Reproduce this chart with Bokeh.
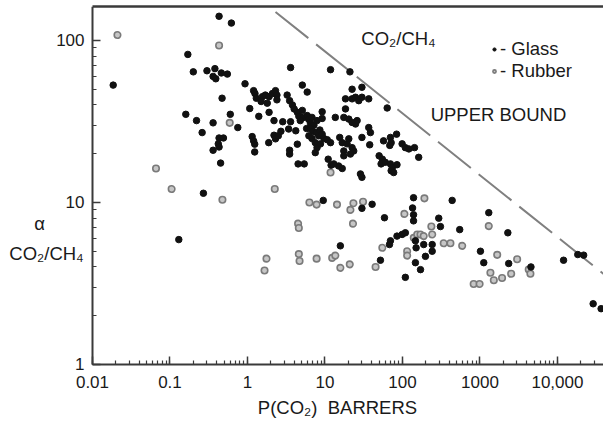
from bokeh.plotting import figure
from bokeh.models import (Range1d, LogAxis, FixedTicker, LogTicker, Label, Legend,
                          LegendItem, CustomJSTickFormatter)
from bokeh.embed import file_html
from bokeh.resources import INLINE

# ---- data ----
glass_p = [0.0185, 0.43, 0.62, 0.17, 0.20, 0.30, 0.38, 0.36, 0.39, 0.46, 0.55, 0.47,
           0.16, 0.22, 0.36, 0.60, 0.75, 0.26, 0.43, 0.49, 0.42, 0.43, 0.36, 0.45, 0.27, 0.13,
           0.93, 1.2, 1.25, 1.3, 1.56, 1.7, 1.9, 2.1, 2.3, 2.4, 2.4, 1.5, 1.8, 1.07, 1.4, 1.9,
           2.2, 2.85, 3.6, 1.15, 1.2, 1.24, 1.24, 1.88, 2.2, 2.3, 2.5, 2.7, 3.4, 3.5, 3.5, 4.4,
           4.5, 5.4, 3.6, 11.8, 5.1, 5.9, 3.25, 3.5, 3.8, 4.0, 4.4, 4.6, 5.1, 5.3, 4.8, 5.9,
           6.2, 6.8, 6.5, 7.2, 7.9, 5.8, 6.5, 7.0, 7.8, 8.6, 8.3, 9.2, 9.7, 10.7, 11.8, 6.2,
           6.8, 7.5, 7.9, 8.75, 9.2, 9.2, 4.2, 7.5, 11.0, 12.0, 15.0, 16.7, 15.5, 16.7, 17.5,
           19.3, 20.3, 22.4, 23.5, 21.3, 17.5, 13.6, 18.4, 17.5, 20.3, 22.4, 24.8, 26.0, 18.4,
           22.4, 24.8, 27.3, 30.0, 22.4, 30.0, 36.7, 30.0, 36.7, 28.7, 30.0, 21.0, 38.6, 37.8,
           57.0, 70.0, 71.5, 68.6, 84.0, 99.0, 109.0, 121.0, 143.0, 162.0, 50.0, 55.0, 53.0,
           60.0, 70.0, 74.0, 71.5, 77.0, 85.0, 13.0, 63.5,
           139.0, 135.0, 139.0, 139.0, 294.0, 309.0, 438.0, 548.0, 58.6, 30.0, 40.6, 9.5,
           70.0, 68.0, 85.0, 99.0, 109.0, 147.0, 150.0, 188.0, 242.0, 242.0, 198.0, 147.0,
           171.0, 109.0, 52.0, 15.8, 1300.0, 2290.0, 1015.0, 1120.0, 2350.0, 4550.0, 12000.0,
           18300.0, 21800.0, 28900.0, 36600.0]
glass_alpha = [53, 141, 128, 82, 64, 65, 67, 60, 58, 63, 62, 44,
               35, 32, 31, 35, 29, 27, 25, 25, 23, 22, 21, 17.5, 11.4, 5.9,
               54, 49, 47, 44, 45, 46, 45, 47, 49, 46, 43, 42, 41, 38, 34, 36,
               32, 31.5, 31.5, 25.5, 24, 22.9, 20.5, 23.4, 26, 24.7, 25.8, 27.5, 28.4, 21, 19.9, 22.9,
               17.3, 17.3, 68, 66, 53, 48, 46, 42.5, 40, 37.8, 36, 34, 37, 33.5, 32, 34.4,
               32.5, 33.5, 30.9, 30, 32, 28.6, 28.6, 27.4, 27, 28, 25.8, 26.4, 24.8, 24.4, 23.4, 25.8,
               24.8, 23.4, 21.8, 23, 36.3, 33, 27.7, 20.3, 18.5, 17, 16.8, 16.2, 25.2, 23.4, 20.8,
               23, 24.7, 21.8, 20.8, 19.9, 19.4, 33.5, 37.8, 33.5, 32.7, 31.2, 30.5, 32, 43.6,
               43.6, 44.6, 42.5, 44.6, 50, 51.4, 43.6, 25.2, 29, 15, 14.3, 64, 27, 22.7,
               24, 25.2, 23.4, 22.5, 26.4, 23, 21.8, 21.4, 21.8, 19, 19.4, 18.5, 17.3,
               17.7, 17.3, 16.4, 15.7, 15.3, 17.1, 17.3, 38.3,
               10.7, 9.25, 8.4, 7.7, 8.0, 7.1, 10.3, 6.8, 8.05, 9.2, 9.75, 10.3,
               5.8, 5.5, 6.2, 6.35, 6.5, 5.8, 5.25, 5.5, 5.5, 5.0, 4.65, 4.25,
               3.85, 3.45, 4.4, 5.4, 8.65, 6.5, 5.0, 4.25, 4.2, 4.0, 4.4,
               4.77, 4.73, 2.37, 2.21]

rubber_p = [0.021, 0.43, 0.59, 0.066, 0.105, 0.475, 2.25, 11.8, 6.3, 7.8, 14.3, 23.3,
            21.3, 31.0, 23.0, 4.5, 4.6, 1.76, 1.66, 4.6, 4.7, 7.8, 12.4, 13.6, 15.8, 20.9,
            45.0, 55.0, 115.0, 115.0, 140.0, 155.0, 171.0, 188.0, 236.0, 242.0, 341.0, 416.0,
            590.0, 1300.0, 1670.0, 3020.0, 4260.0, 4480.0, 1365.0, 1510.0, 1930.0, 2530.0,
            830.0, 990.0, 106.0, 192.0]
rubber_alpha = [108, 93, 31, 16.2, 12.1, 10.4, 12.1, 15.3, 10.0, 9.7, 9.7, 9.9,
                9.0, 10.1, 7.4, 7.4, 6.95, 4.5, 3.8, 4.8, 4.35, 4.5, 4.55, 4.7, 3.95, 4.15,
                4.0, 5.25, 5.0, 4.7, 6.05, 6.35, 6.35, 6.2, 7.1, 6.35, 5.6, 5.6,
                5.4, 7.15, 4.75, 4.46, 3.86, 3.63, 3.68, 3.31, 3.42, 3.63,
                3.14, 3.14, 8.5, 10.6]

bound_p = [2.3, 40000]
bound_alpha = [150, 3.6]

x_ticks = [0.01, 0.1, 1, 10, 100, 1000, 10000]
x_tick_labels = ["0.01", "0.1", "1", "10", "100", "1000", "10,000"]
y_ticks = [1, 10, 100]
y_tick_labels = ["1", "10", "100"]

X_MIN, X_MAX = 0.01, 39300      # drawn axis extents
Y_MIN, Y_MAX = 1, 162

FONT = "Liberation Sans"
AX = "#3a3a3a"
TXT = "#1a1a1a"
FS = "18.5px"

# The data area covers the whole canvas below the top border; both axes are pinned
# at (0.01, 1) and bounded, so their labels and the titles sit in the open margin.
p = figure(width=603, height=428, x_axis_type="log", y_axis_type="log",
           x_range=Range1d(0.00065, X_MAX), y_range=Range1d(0.4027, Y_MAX),
           output_backend="svg", toolbar_location=None,
           min_border_left=0, min_border_right=0, min_border_top=6, min_border_bottom=0)
p.outline_line_color = None
p.xgrid.visible = False
p.ygrid.visible = False
p.background_fill_color = "white"
p.border_fill_color = "white"

fmt_code = """
for (let i = 0; i < tvals.length; i++) {
  if (Math.abs(Math.log10(tick) - Math.log10(tvals[i])) < 1e-6) return tlabels[i];
}
return "";
"""
xa = p.xaxis[0]
ya = p.yaxis[0]
xa.ticker = LogTicker(desired_num_ticks=9, num_minor_ticks=10)
xa.formatter = CustomJSTickFormatter(args=dict(tvals=x_ticks, tlabels=x_tick_labels), code=fmt_code)
xa.bounds = (X_MIN, X_MAX)
xa.fixed_location = Y_MIN
ya.ticker = LogTicker(desired_num_ticks=3, num_minor_ticks=10)
ya.formatter = CustomJSTickFormatter(args=dict(tvals=y_ticks, tlabels=y_tick_labels), code=fmt_code)
ya.bounds = (Y_MIN, Y_MAX)
ya.fixed_location = X_MIN

for ax in (xa, ya):
    ax.major_tick_in = 8
    ax.major_tick_out = 0
    ax.minor_tick_in = 4
    ax.minor_tick_out = 0
    ax.axis_line_width = 2
    ax.axis_line_color = AX
    ax.major_tick_line_color = AX
    ax.minor_tick_line_color = AX
    ax.major_tick_line_width = 1.5
    ax.minor_tick_line_width = 1.2
    ax.major_label_text_font = FONT
    ax.major_label_text_font_size = "17px"
    ax.major_label_text_color = TXT
xa.major_label_standoff = 12
ya.major_label_standoff = 8

top = LogAxis(ticker=FixedTicker(ticks=[]), major_label_text_font_size="0px",
              major_tick_in=0, major_tick_out=0, minor_tick_in=0, minor_tick_out=0,
              axis_line_width=2.5, axis_line_color=AX, major_label_standoff=0,
              bounds=(X_MIN, X_MAX))
p.add_layout(top, "above")

p.line(bound_p, bound_alpha, line_color="#808080", line_width=2, line_dash="42 10")
r_rub = p.scatter(rubber_p, rubber_alpha, marker="circle", size=6.5,
                  fill_color="#c6c6c6", line_color="#7a7a7a", line_width=1.6)
r_gl = p.scatter(glass_p, glass_alpha, marker="circle", size=6.5,
                 fill_color="#111111", line_color="#111111")

leg = Legend(items=[LegendItem(label="- Glass", renderers=[r_gl]),
                    LegendItem(label="- Rubber", renderers=[r_rub])],
             location=(490, 346), border_line_color=None, background_fill_alpha=0,
             glyph_width=8, glyph_height=20, label_height=20, label_standoff=2,
             padding=0, spacing=0, margin=0,
             label_text_font=FONT, label_text_font_size=FS, label_text_color=TXT)
p.add_layout(leg)

def lab(text, x, y):
    p.add_layout(Label(x=x, y=y, x_units="screen", y_units="screen", text=text,
                       text_font=FONT, text_font_size=FS, text_color=TXT,
                       text_align="center", text_baseline="middle"))

lab("CO\u2082/CH\u2084", 398, 390)
lab("UPPER BOUND", 498, 314)
lab("\u03b1", 39, 205)
lab("CO\u2082/CH\u2084", 46, 175)
lab("P(CO\u2082)\u00a0 BARRERS", 337, 21)

open("out.html", "w").write(file_html(p, INLINE))
